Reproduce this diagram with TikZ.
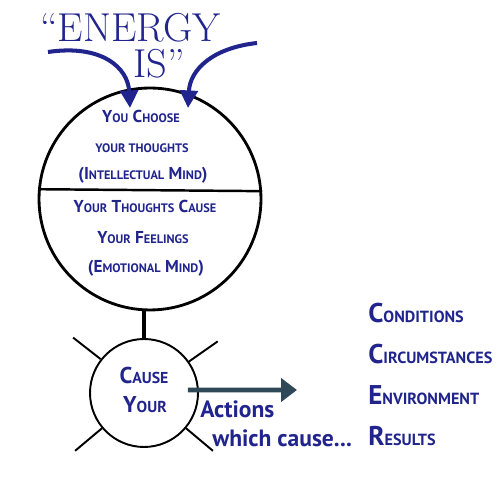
\documentclass[tikz,border=0pt]{standalone}
\usepackage{fontspec}
\setsansfont{PT Sans}
\usetikzlibrary{arrows.meta}
\definecolor{inkblue}{RGB}{32,36,140}
\definecolor{slate}{RGB}{47,72,88}
\newcommand{\smallsz}{7pt}
\newcommand{\smcap}[1]{{\fontsize{\smallsz}{\smallsz}\selectfont #1}}
\tikzset{
  mindtext/.style={anchor=base, text=inkblue, inner sep=0pt,
    font=\sffamily\bfseries\renewcommand{\smallsz}{7pt}\fontsize{9.8pt}{12pt}\selectfont},
  bodytext/.style={anchor=base, text=inkblue, inner sep=0pt,
    font=\sffamily\bfseries\renewcommand{\smallsz}{9pt}\fontsize{13pt}{15pt}\selectfont},
  listtext/.style={anchor=base west, text=inkblue, inner sep=0pt,
    font=\sffamily\bfseries\renewcommand{\smallsz}{9.2pt}\fontsize{15.4pt}{16pt}\selectfont},
  acttext/.style={anchor=base west, text=inkblue, inner sep=0pt,
    font=\sffamily\bfseries\fontsize{13.4pt}{15pt}\selectfont},
  titletext/.style={anchor=base west, text=inkblue, inner sep=0pt,
    font=\fontsize{23pt}{26pt}\selectfont},
  energy arrow/.style={inkblue, line width=2.3pt, -{Triangle[length=10pt,width=10pt]}},
  act arrow/.style={slate, line width=2.8pt, -{Triangle[length=9pt,width=13pt]}}
}
\begin{document}
\begin{tikzpicture}[x=0.02cm, y=0.02cm]
  \useasboundingbox (0,0) rectangle (500,500);
  % title
  \node[titletext, text depth=0pt] (energy) at (40,458) {“ENERGY};
  \node[titletext] (is) at (133,422) {IS”};
  % mind
  \node[draw, circle, line width=1.6pt, minimum size=4.44cm] (mind) at (150,301) {};
  \draw[line width=1.4pt] (mind.175.4) -- (mind.4.6);
  \node[mindtext] (choose) at (141,377) {Y\smcap{OU} C\smcap{HOOSE}};
  \node[mindtext] (thoughts) at (142,347) {\smcap{YOUR THOUGHTS}};
  \node[mindtext] (intel) at (143,320) {(I\smcap{NTELLECTUAL} M\smcap{IND})};
  \node[mindtext] (cause) at (145,287) {Y\smcap{OUR} T\smcap{HOUGHTS} C\smcap{AUSE}};
  \node[mindtext] (feel) at (143,256) {Y\smcap{OUR} F\smcap{EELINGS}};
  \node[mindtext] (emo) at (146,227) {(E\smcap{MOTIONAL} M\smcap{IND})};
  % arrows into the mind
  \coordinate (lstart) at (48,448);
  \coordinate (ltip) at (130,392);
  \draw[energy arrow] (lstart) .. controls (102,456) and (128,432) .. (ltip);
  \coordinate (rstart) at (257,457);
  \coordinate (rtip) at (188,392);
  \draw[energy arrow] (rstart) .. controls (212,452) and (190,430) .. (rtip);
  % body
  \node[draw, circle, line width=1.1pt, minimum size=2.16cm] (body) at (144,107) {};
  \draw[line width=2.8pt] (body.north) -- (body.north |- mind.south);
  \foreach \a in {142,35,220,320}
    \draw[line width=1.1pt] (body.\a) -- ++(\a:0.7cm);
  \node[bodytext] (causew) at (144,116) {C\smcap{AUSE}};
  \node[bodytext] (your) at (145,87) {Y\smcap{OUR}};
  % actions
  \coordinate (actend) at (297,110);
  \draw[act arrow] ([shift={(-0.22cm,0.06cm)}]body.east) -- (actend);
  \node[acttext] (actions) at (200,82) {Actions};
  \node[acttext] (which) at (212,53) {which cause...};
  % results
  \node[listtext] (cond) at (368,177) {C\smcap{ONDITIONS}};
  \node[listtext] (circ) at (368,136) {C\smcap{IRCUMSTANCES}};
  \node[listtext] (env) at (368,95) {E\smcap{NVIRONMENT}};
  \node[listtext] (res) at (368,54) {R\smcap{ESULTS}};
\end{tikzpicture}
\end{document}
